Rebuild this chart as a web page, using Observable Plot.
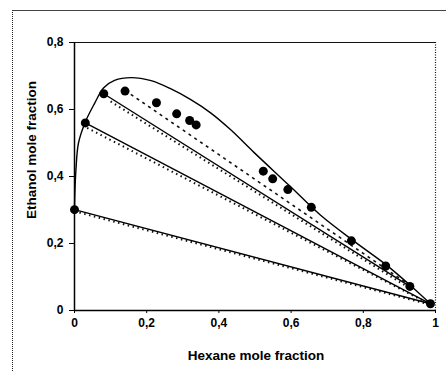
<!DOCTYPE html>
<html>
<head>
<meta charset="utf-8">
<script src="https://cdn.jsdelivr.net/npm/d3@7"></script>
<script src="https://cdn.jsdelivr.net/npm/@observablehq/plot@0.6"></script>
<style>
  html, body { margin: 0; padding: 0; background: #fff; }
  #wrap { position: relative; width: 446px; height: 371px; overflow: hidden; }
  #outer { position: absolute; left: 12px; top: 10px; width: 440px; height: 370px;
           border-top: 1px solid #444; border-left: 1px dotted #222; pointer-events: none; }
  text { fill: #000; }
</style>
</head>
<body>
<div id="wrap"><div id="outer"></div></div>
<script>
// Axis settings
const xDomain = [0, 1];
const yDomain = [0, 0.8];
const xTicks = [0, 0.2, 0.4, 0.6, 0.8, 1];
const yTicks = [0, 0.2, 0.4, 0.6, 0.8];
const xTitle = "Hexane mole fraction";
const yTitle = "Ethanol mole fraction";

// Experimental data points (filled circles)
const ptX = [0, 0.030, 0.081, 0.140, 0.227, 0.283, 0.319, 0.337, 0.523, 0.549, 0.591, 0.656, 0.767, 0.862, 0.929, 0.986];
const ptY = [0.301, 0.560, 0.647, 0.655, 0.620, 0.587, 0.567, 0.554, 0.416, 0.393, 0.361, 0.308, 0.208, 0.133, 0.072, 0.020];

// Binodal curve (solid)
const binX = [0, 0.001, 0.004, 0.011, 0.030, 0.055, 0.081, 0.111, 0.157, 0.212, 0.266, 0.321, 0.377, 0.432, 0.497, 0.598, 0.681, 0.774, 0.866, 0.929, 0.986];
const binY = [0.301, 0.350, 0.420, 0.500, 0.563, 0.617, 0.665, 0.687, 0.695, 0.686, 0.662, 0.630, 0.590, 0.540, 0.472, 0.370, 0.285, 0.207, 0.134, 0.076, 0.020];

// Experimental tie lines (solid)
const tieX1 = [0, 0.030, 0.081];
const tieY1 = [0.301, 0.560, 0.647];
const tieX2 = [0.986, 0.986, 0.929];
const tieY2 = [0.020, 0.020, 0.072];

// Predicted tie lines (dotted)
const dotX1 = [0, 0.035, 0.100];
const dotY1 = [0.296, 0.545, 0.624];
const dotX2 = [0.986, 0.986, 0.929];
const dotY2 = [0.017, 0.018, 0.066];

// Predicted tie line (dashed)
const dashX1 = [0.140];
const dashY1 = [0.657];
const dashX2 = [0.929];
const dashY2 = [0.075];

const points = ptX.map((x, i) => ({x, y: ptY[i]}));
const binodal = binX.map((x, i) => ({x, y: binY[i]}));
const ties = tieX1.map((x1, i) => ({x1, y1: tieY1[i], x2: tieX2[i], y2: tieY2[i]}));
const dots = dotX1.map((x1, i) => ({x1, y1: dotY1[i], x2: dotX2[i], y2: dotY2[i]}));
const dashes = dashX1.map((x1, i) => ({x1, y1: dashY1[i], x2: dashX2[i], y2: dashY2[i]}));

const fmt = d => String(d).replace(".", ",");

const svg = Plot.plot({
  width: 446,
  height: 371,
  marginLeft: 74,
  marginRight: 11,
  marginTop: 42,
  marginBottom: 61,
  style: {fontFamily: "'Liberation Sans', Arial, sans-serif", fontSize: "12px", background: "transparent", color: "#000"},
  x: {domain: xDomain},
  y: {domain: yDomain},
  marks: [
    Plot.ruleY([yDomain[1]], {stroke: "#111", strokeWidth: 1}),
    Plot.ruleX([xDomain[1]], {stroke: "#111", strokeWidth: 1.2, strokeDasharray: "1,1.5"}),
    Plot.axisX({ticks: xTicks, tickFormat: fmt, tickSize: 3, tickPadding: 5, label: null, fontWeight: "bold"}),
    Plot.axisY({ticks: yTicks, tickFormat: fmt, tickSize: 5, tickPadding: 6, label: null, fontWeight: "bold"}),
    Plot.ruleX([xDomain[0]], {stroke: "#000", strokeWidth: 1.5}),
    Plot.ruleY([yDomain[0]], {stroke: "#000", strokeWidth: 1.3}),
    Plot.link(dots, {x1: "x1", y1: "y1", x2: "x2", y2: "y2", stroke: "#111", strokeWidth: 2, strokeDasharray: "1.5,3.5"}),
    Plot.link(dashes, {x1: "x1", y1: "y1", x2: "x2", y2: "y2", stroke: "#111", strokeWidth: 1.6, strokeDasharray: "3,4"}),
    Plot.link(ties, {x1: "x1", y1: "y1", x2: "x2", y2: "y2", stroke: "#000", strokeWidth: 1.4}),
    Plot.line(binodal, {x: "x", y: "y", curve: "catmull-rom", stroke: "#000", strokeWidth: 1.4}),
    Plot.dot(points, {x: "x", y: "y", r: 4.5, fill: "#000", stroke: "none"})
  ]
});

const s = d3.select(svg);
s.append("text")
  .attr("transform", "translate(31,150) rotate(-90)")
  .attr("text-anchor", "middle")
  .attr("dominant-baseline", "central")
  .attr("font-family", "'Liberation Sans', Arial, sans-serif")
  .attr("font-size", 13.5)
  .attr("font-weight", "bold")
  .text(yTitle);
s.append("text")
  .attr("x", 256)
  .attr("y", 355)
  .attr("text-anchor", "middle")
  .attr("dominant-baseline", "central")
  .attr("font-family", "'Liberation Sans', Arial, sans-serif")
  .attr("font-size", 13.5)
  .attr("font-weight", "bold")
  .text(xTitle);

svg.style.position = "absolute";
svg.style.left = "0";
svg.style.top = "0";
document.getElementById("wrap").prepend(svg);
</script>
</body>
</html>
